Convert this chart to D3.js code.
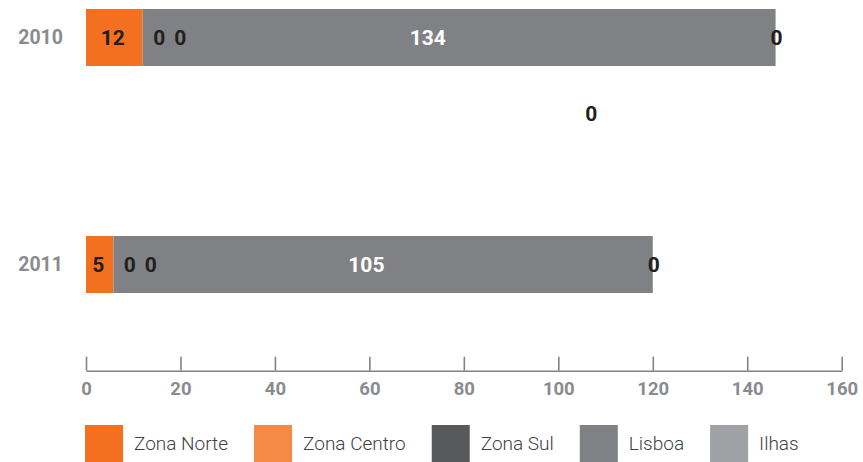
<!DOCTYPE html>
<html>
<head>
<meta charset="utf-8">
<script src="https://cdn.jsdelivr.net/npm/d3@7"></script>
<style>
  html, body { margin: 0; padding: 0; background: #fff; }
  svg { display: block; }
</style>
</head>
<body>
<svg id="chart" width="863" height="462"></svg>
<script>
// ---- data ----
const years = ["2010", "2011"];
const seriesNames = ["Zona Norte", "Zona Centro", "Zona Sul", "Lisboa", "Ilhas"];
const zonaNorte  = [12, 5.8];
const zonaCentro = [0, 0];
const zonaSul    = [0, 0];
const lisboa     = [134, 114.2];
const ilhas      = [0, 0];
// labels as printed on the chart
const norteLabels  = ["12", "5"];
const centroLabels = ["0", "0"];
const sulLabels    = ["0", "0"];
const lisboaLabels = ["134", "105"];
const ilhasLabels  = ["0", "0"];
const strayLabel   = { value: 107, text: "0" };
const tickValues = [0, 20, 40, 60, 80, 100, 120, 140, 160];
const colors = ["#F37021", "#F58A46", "#58595B", "#808184", "#A0A1A4"];

// ---- build ----
const seriesValues = [zonaNorte, zonaCentro, zonaSul, lisboa, ilhas];
const rows = years.map((yr, i) => {
  const r = { year: yr };
  seriesNames.forEach((s, k) => r[s] = seriesValues[k][i]);
  return r;
});
const stacked = d3.stack().keys(seriesNames)(rows);

const svg = d3.select("#chart");
const x = d3.scaleLinear().domain([0, 160]).range([86, 841.7]);
const y = d3.scaleBand().domain(years).range([9, 293]).paddingInner(0.749).paddingOuter(0);
const color = d3.scaleOrdinal().domain(seriesNames).range(colors);
const FONT = "Roboto, 'Open Sans', sans-serif";

// bars
svg.append("g").selectAll("g").data(stacked).join("g")
  .attr("fill", d => color(d.key))
  .selectAll("rect").data(d => d).join("rect")
  .attr("x", d => x(d[0]))
  .attr("y", d => y(d.data.year))
  .attr("width", d => Math.max(0, x(d[1]) - x(d[0])))
  .attr("height", y.bandwidth());

// year labels
svg.append("g").selectAll("text").data(years).join("text")
  .attr("x", 63)
  .attr("y", d => y(d) + y.bandwidth() / 2)
  .attr("dy", "0.35em")
  .attr("text-anchor", "end")
  .attr("font-family", FONT).attr("font-weight", "bold").attr("font-size", 19.5)
  .attr("fill", "#8a8b8e")
  .text(d => d);

// value labels
const lab = svg.append("g")
  .attr("font-family", FONT).attr("font-weight", "bold").attr("font-size", 21)
  .attr("text-anchor", "middle");
const byKey = k => stacked.find(s => s.key === k);
years.forEach((yr, i) => {
  const cy = y(yr) + y.bandwidth() / 2;
  const n = byKey("Zona Norte")[i];
  const total = byKey("Ilhas")[i][1];
  lab.append("text").attr("x", (x(n[0]) + x(n[1])) / 2 - 1.5).attr("y", cy).attr("dy", "0.35em")
    .attr("fill", "#231f20").text(norteLabels[i]);
  lab.append("text").attr("x", x(byKey("Zona Centro")[i][0]) + 16.5).attr("y", cy).attr("dy", "0.35em")
    .attr("fill", "#231f20").text(centroLabels[i]);
  lab.append("text").attr("x", x(byKey("Zona Sul")[i][0]) + 37.5).attr("y", cy).attr("dy", "0.35em")
    .attr("fill", "#231f20").text(sulLabels[i]);
  lab.append("text").attr("x", x(total / 2) - 3).attr("y", cy).attr("dy", "0.35em")
    .attr("fill", "#ffffff").text(lisboaLabels[i]);
  lab.append("text").attr("x", x(byKey("Ilhas")[i][0]) + 1).attr("y", cy).attr("dy", "0.35em")
    .attr("fill", "#231f20").text(ilhasLabels[i]);
});
lab.append("text")
  .attr("x", x(strayLabel.value))
  .attr("y", y(years[0]) + y.bandwidth() / 2 + 76)
  .attr("dy", "0.35em").attr("fill", "#231f20").text(strayLabel.text);

// axis
const axis = d3.axisBottom(x).tickValues(tickValues).tickSize(-14).tickSizeOuter(0).tickPadding(11.5);
const ax = svg.append("g").attr("transform", "translate(0,370.7)").call(axis);
ax.select(".domain").attr("stroke", "#808285").attr("stroke-width", 1.6);
ax.selectAll(".tick line").attr("stroke", "#808285").attr("stroke-width", 1.6);
ax.selectAll(".tick text")
  .attr("font-family", FONT).attr("font-weight", "bold").attr("font-size", 18.5)
  .attr("fill", "#8a8b8e");

// legend
const lg = svg.append("g");
let lx = 85;
seriesNames.forEach((s, k) => {
  lg.append("rect").attr("x", lx).attr("y", 425).attr("width", 38).attr("height", 37)
    .attr("fill", color(s));
  const t = lg.append("text").attr("x", lx + 49).attr("y", 443.5).attr("dy", "0.35em")
    .attr("font-family", FONT).attr("font-weight", 300).attr("font-size", 19)
    .attr("fill", "#414042").text(s);
  const w = t.node().getComputedTextLength();
  lx = lx + 49 + w + 26;
});
</script>
</body>
</html>
